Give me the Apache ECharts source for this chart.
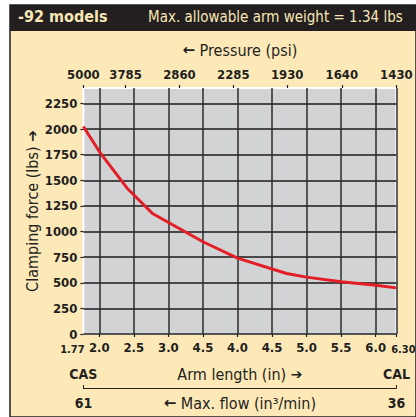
<!DOCTYPE html>
<html><head><meta charset="utf-8">
<script src="https://cdn.jsdelivr.net/npm/echarts@6/dist/echarts.min.js"></script>
<style>html,body{margin:0;padding:0;background:#fff;}#c{width:416px;height:417px;}</style>
</head><body><div id="c"></div>
<script>
// Data
var armLength = [1.77, 2.0, 2.4, 2.77, 3.5, 4.0, 4.71, 5.0, 5.5, 6.0, 6.30];
var clampForce = [2025, 1780, 1425, 1175, 900, 740, 590, 555, 510, 475, 450];
var armTickValues = [1.77, 2.0, 2.5, 3.0, 3.5, 4.0, 4.5, 5.0, 5.5, 6.0, 6.30];
var armTickLabels = ['1.77', '2.0', '2.5', '3.0', '4.5', '4.0', '4.5', '5.0', '5.5', '6.0', '6.30'];
var pressurePositions = [1.77, 2.38, 3.16, 3.94, 4.72, 5.51, 6.30];
var pressureLabels = ['5000', '3785', '2860', '2285', '1930', '1640', '1430'];
var forceTicks = [0, 250, 500, 750, 1000, 1250, 1500, 1750, 2000, 2250];
var modelEnds = ['CAS', 'CAL'];
var flowEnds = ['61', '36'];
var xMin = 1.77, xMax = 6.30, yMax = 2400;

var FONT = "'DejaVu Sans Condensed', 'Liberation Sans Narrow', sans-serif";
var ARW = "'DejaVu Sans', sans-serif";
var INK = '#231f20';

function lookup(vals, labels) {
  return function (v) {
    for (var i = 0; i < vals.length; i++) if (Math.abs(vals[i] - v) < 1e-6) return labels[i];
    return '';
  };
}
var armLab = lookup(armTickValues, armTickLabels);

var chart = echarts.init(document.getElementById('c'), null, {renderer: 'svg'});
chart.setOption({
  backgroundColor: '#ffffff',
  animation: false,
  graphic: [
    {type: 'rect', shape: {x: 10, y: 5, width: 406, height: 412}, style: {fill: '#fde9b8', stroke: INK, lineWidth: 1.5}, z: -10},
    {type: 'rect', shape: {x: 10, y: 5, width: 406, height: 26}, style: {fill: INK}, z: -9}
  ],
  title: [
    {text: '-92 models', left: 18, top: 8, padding: 0, textStyle: {fontFamily: FONT, fontSize: 16, fontWeight: 'bold', color: '#f8e7b5'}},
    {text: 'Max. allowable arm weight = 1.34 lbs', left: 148, top: 9, padding: 0, textStyle: {fontFamily: FONT, fontSize: 15, fontWeight: 'normal', color: '#f8e7b5'}}
  ],
  grid: {left: 83.4, right: 19.6, top: 88, bottom: 83, outerBoundsMode: 'none', containLabel: false,
    show: true, backgroundColor: '#d1d3d4', borderColor: '#ffffff', borderWidth: 2},
  xAxis: [
    {
      type: 'value', position: 'bottom', min: xMin, max: xMax,
      axisLine: {show: false},
      axisTick: {show: true, customValues: armTickValues.slice(1), length: 3, lineStyle: {color: INK, width: 1.2}},
      splitLine: {show: true, lineStyle: {color: '#2b2b2b', width: 1.5}},
      axisLabel: {
        customValues: armTickValues, showMinLabel: true, showMaxLabel: true, margin: 7, fontFamily: FONT, fontSize: 13, fontWeight: 'bold', color: INK,
        formatter: function (v) { var s = armLab(v); return s === '1.77' ? '{l|' + s + '}' : (s === '6.30' ? '{r|' + s + '}' : s); },
        rich: {
          l: {fontFamily: FONT, fontSize: 11, fontWeight: 'bold', color: INK, padding: [3, 22, 0, 0]},
          r: {fontFamily: FONT, fontSize: 11, fontWeight: 'bold', color: INK, padding: [3, 0, 0, 14]}
        }
      }
    },
    {
      type: 'value', position: 'top', min: xMin, max: xMax,
      axisLine: {show: false},
      axisTick: {show: true, customValues: pressurePositions, length: 3, lineStyle: {color: INK, width: 1.2}},
      splitLine: {show: false},
      axisLabel: {customValues: pressurePositions, showMinLabel: true, showMaxLabel: true, margin: 7, fontFamily: FONT, fontSize: 13, fontWeight: 'bold', color: INK,
        formatter: lookup(pressurePositions, pressureLabels)},
      name: '{a|←} Pressure (psi)', nameLocation: 'middle', nameGap: 30, nameMoveOverlap: false,
      nameTextStyle: {fontFamily: FONT, fontSize: 16, color: INK, rich: {a: {fontFamily: ARW, fontSize: 15, fontWeight: 'bold', color: INK}}}
    },
    {
      type: 'value', position: 'bottom', offset: 40, min: xMin, max: xMax,
      axisLine: {show: false}, axisTick: {show: false}, splitLine: {show: false},
      axisLabel: {customValues: [xMin, xMax], showMinLabel: true, showMaxLabel: true, margin: 0, verticalAlign: 'middle', fontFamily: FONT, fontSize: 14, fontWeight: 'bold', color: INK,
        formatter: lookup([xMin, xMax], modelEnds)},
      name: 'Arm length (in) {a|➔}', nameLocation: 'middle', nameGap: 0, nameMoveOverlap: false,
      nameTextStyle: {fontFamily: FONT, fontSize: 16, color: INK, verticalAlign: 'middle', rich: {a: {fontFamily: ARW, fontSize: 14, fontWeight: 'bold', color: INK}}}
    },
    {
      type: 'value', position: 'bottom', offset: 54, min: xMin, max: xMax,
      axisLine: {show: true, lineStyle: {color: INK, width: 1}},
      axisTick: {show: true, inside: true, customValues: [xMin, xMax], length: 3, lineStyle: {color: INK, width: 1}},
      splitLine: {show: false},
      axisLabel: {customValues: [xMin, xMax], showMinLabel: true, showMaxLabel: true, margin: 15, verticalAlign: 'middle', fontFamily: FONT, fontSize: 14, fontWeight: 'bold', color: INK,
        formatter: lookup([xMin, xMax], flowEnds)},
      name: '{a|←} Max. flow (in³/min)', nameLocation: 'middle', nameGap: 15, nameMoveOverlap: false,
      nameTextStyle: {fontFamily: FONT, fontSize: 16, color: INK, verticalAlign: 'middle', rich: {a: {fontFamily: ARW, fontSize: 15, fontWeight: 'bold', color: INK}}}
    }
  ],
  yAxis: {
    type: 'value', min: 0, max: yMax,
    axisLine: {show: false},
    axisTick: {show: true, customValues: forceTicks, length: 3, lineStyle: {color: INK, width: 1.2}},
    splitLine: {show: true, lineStyle: {color: '#1a1a1a', width: 1.5}},
    axisLabel: {customValues: forceTicks, showMinLabel: true, margin: 6, fontFamily: FONT, fontSize: 13, fontWeight: 'bold', color: INK,
      formatter: function (v) { return String(v); }},
    name: 'Clamping force (lbs) {a|➔}', nameLocation: 'middle', nameGap: 43, nameRotate: 90, nameMoveOverlap: false,
    nameTextStyle: {fontFamily: FONT, fontSize: 16, color: INK, rich: {a: {fontFamily: ARW, fontSize: 14, fontWeight: 'bold', color: INK}}}
  },
  series: [{
    type: 'line', xAxisIndex: 0, yAxisIndex: 0,
    data: armLength.map(function (x, i) { return [x, clampForce[i]]; }),
    showSymbol: false, smooth: false,
    lineStyle: {color: '#e31e26', width: 3}
  }]
});
</script></body></html>
